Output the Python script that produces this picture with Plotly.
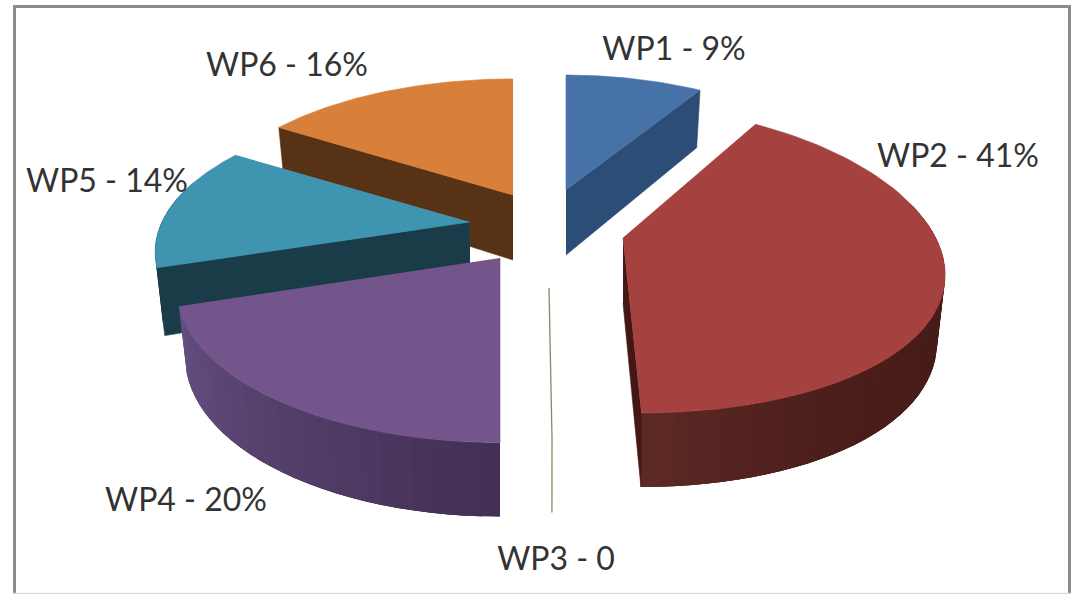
import numpy as np
import plotly.graph_objects as go

# ---- chart data ----
names = ["WP1", "WP2", "WP3", "WP4", "WP5", "WP6"]
values = [9, 41, 0, 20, 14, 16]

# ---- styling and exploded-pie layout (per slice) ----
top_colors = ["#4672a8", "#a5423f", "#7f8c6a", "#73558c", "#3f95b0", "#d8803a"]
face_colors = ["#2c4d75", "#451714", "#7f8c6a", "#44305a", "#1a3c48", "#583215"]
wall_from = ["#2c4d75", "#451a17", "#7f8c6a", "#432f54", "#1a3c48", "#583215"]
wall_to = ["#2c4d75", "#5e2a26", "#7f8c6a", "#654f82", "#1a3c48", "#583215"]
wall_power = [1, 5, 1, 1, 1, 1]
centre = (540, 230)
pull_x = [26, 83, 9, -40, -70, -27]
pull_y = [-40, 8, 58, 28, -8, -35]
scale_x = [0.93, 0.99, 0.86, 1.0, 0.975, 0.975]
scale_y = [1.0, 1.0, 0.86, 1.055, 1.0, 1.01]
persp_y = [0.207, 0.14, 0.207, 0.207, 0.207, 0.207]
persp_x = [0.207, 0.19, 0.207, 0.207, 0.207, 0.207]
shear = [0.0, 0.105, 0.02, 0.0, 0.0, 0.0]
label_x = [674, 958, 556, 186, 107, 287]
label_y = [52, 159, 562, 503, 184, 68]
paint_order = [0, 5, 4, 3, 2, 1]

RX, FRONT_RY, DEPTH, DEPTH_TILT, BASE_SHRINK = 316, 175, 65, 9, 0.975


def rim(i, theta):
    """Project a unit-disc angle to the top and bottom rim of slice i."""
    u, v = np.sin(theta), np.cos(theta)
    dx = RX * scale_x[i] * u / (1 + persp_x[i] * v)
    dy = -FRONT_RY * (1 - persp_y[i]) * scale_y[i] * v / (1 + persp_y[i] * v)
    dx = dx + shear[i] * dy
    ax, ay = centre[0] + pull_x[i], centre[1] + pull_y[i]
    top = (ax + dx, ay + dy)
    bot = (ax + BASE_SHRINK * dx, ay + dy + DEPTH - DEPTH_TILT * v)
    return top, bot


def mix(a, b, t):
    ca = [int(a[j:j + 2], 16) for j in (1, 3, 5)]
    cb = [int(b[j:j + 2], 16) for j in (1, 3, 5)]
    return "rgb(%d,%d,%d)" % tuple(round(x + (y - x) * t) for x, y in zip(ca, cb))


def poly(xs, ys, color, width=0.6):
    return go.Scatter(x=xs, y=ys, mode="lines", fill="toself", fillcolor=color,
                      line=dict(width=width, color=color), hoverinfo="skip", showlegend=False)


fig = go.Figure()
edges = np.concatenate([[0], np.cumsum(values)]) * 3.6 * np.pi / 180

for i in paint_order:
    a0, a1 = edges[i], edges[i + 1]
    ax, ay = centre[0] + pull_x[i], centre[1] + pull_y[i]
    ay_bot = ay + DEPTH
    if values[i] == 0:
        (tx, ty), (bx, by) = rim(i, a0)
        fig.add_trace(go.Scatter(x=[ax, tx, bx], y=[ay, ty, by], mode="lines",
                                 line=dict(width=1.3, color=top_colors[i]),
                                 hoverinfo="skip", showlegend=False))
        continue
    # arc wall: overlapping shaded strips, each runs on to the far end of the next
    n = max(4, int((a1 - a0) / np.radians(2.5)))
    th = np.linspace(a0, a1, n + 1)
    for s in range(n):
        mid = (th[s] + th[s + 1]) / 2
        if np.cos(mid) > 0.2:
            continue
        arc = th[s:min(s + 3, n) + 1]
        rims = [rim(i, t) for t in arc]
        xs = [r[0][0] for r in rims] + [r[1][0] for r in rims[::-1]]
        ys = [r[0][1] for r in rims] + [r[1][1] for r in rims[::-1]]
        c = mix(wall_from[i], wall_to[i], ((mid - a0) / (a1 - a0)) ** wall_power[i])
        fig.add_trace(poly(xs, ys, c, width=0))
    # radial faces that look towards the viewer
    if np.sin(a0) < -1e-9:
        (tx, ty), (bx, by) = rim(i, a0)
        fig.add_trace(poly([ax, tx, bx, ax], [ay, ty, by, ay_bot], face_colors[i]))
    if np.sin(a1) > -1e-9 and a1 < 2 * np.pi - 1e-6:
        (tx, ty), (bx, by) = rim(i, a1)
        fig.add_trace(poly([ax, tx, bx, ax], [ay, ty, by, ay_bot], face_colors[i]))
    # top face
    th = np.linspace(a0, a1, 80)
    pts = [rim(i, t)[0] for t in th]
    fig.add_trace(poly([ax] + [p[0] for p in pts], [ay] + [p[1] for p in pts], top_colors[i]))

labels = [f"{n} - {v}%" if v else f"{n} - 0" for n, v in zip(names, values)]
fig.add_trace(go.Scatter(x=label_x, y=label_y, mode="text", text=labels,
                         textposition="middle center",
                         textfont=dict(family="Lato", size=32, color="#333333"),
                         hoverinfo="skip", showlegend=False))

frame = "#8c8c8c"
fig.update_layout(
    width=1073, height=594, margin=dict(l=0, r=0, t=0, b=0),
    paper_bgcolor="white", plot_bgcolor="white",
    xaxis=dict(range=[0, 1073], visible=False, fixedrange=True),
    yaxis=dict(range=[594, 0], visible=False, fixedrange=True),
    shapes=[
        dict(type="line", x0=14.5, x1=14.5, y0=5, y1=594, line=dict(color=frame, width=3)),
        dict(type="line", x0=13, x1=1071, y0=6.5, y1=6.5, line=dict(color=frame, width=3)),
        dict(type="line", x0=1069.5, x1=1069.5, y0=5, y1=594, line=dict(color=frame, width=3)),
        dict(type="line", x0=13, x1=1071, y0=593.5, y1=593.5, line=dict(color="#d9d9d9", width=1.5)),
    ],
)
fig.write_html("out.html", config=dict(displayModeBar=False),
               post_script="document.body.style.margin='0';document.body.style.overflow='hidden';")
